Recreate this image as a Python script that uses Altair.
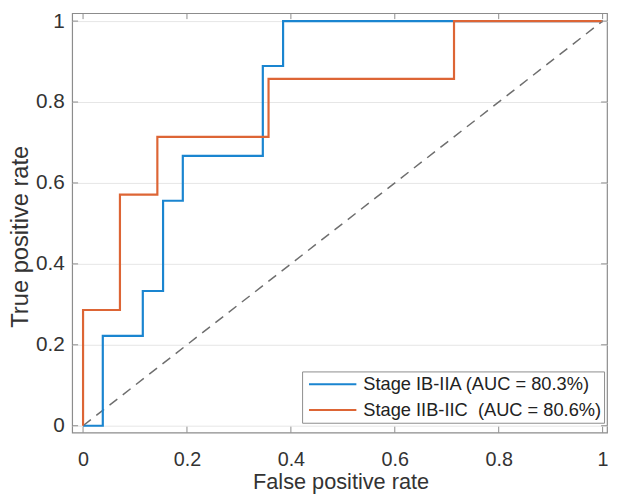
import altair as alt
import pandas as pd

# ROC step vertices
series_names = ["Stage IB-IIA (AUC = 80.3%)", "Stage IIB-IIC\u00a0 (AUC = 80.6%)"]
blue_fpr = [0.0, 0.038, 0.115, 0.154, 0.192, 0.346, 0.385, 1.0]
blue_tpr = [0.0, 0.222, 0.333, 0.556, 0.667, 0.889, 1.0, 1.0]
orange_fpr = [0.0, 0.0, 0.071, 0.143, 0.357, 0.714, 1.0]
orange_tpr = [0.0, 0.286, 0.571, 0.714, 0.857, 1.0, 1.0]
diag_x = [0.0, 1.0]
diag_y = [0.0, 1.0]
tick_values = [0, 0.2, 0.4, 0.6, 0.8, 1]
colors = ["#1a85d0", "#dd6535"]

rows = []
for i, (fx, ty) in enumerate(zip(blue_fpr, blue_tpr)):
    rows.append({"fpr": fx, "tpr": ty, "series": series_names[0], "ord": i})
for i, (fx, ty) in enumerate(zip(orange_fpr, orange_tpr)):
    rows.append({"fpr": fx, "tpr": ty, "series": series_names[1], "ord": i})
df = pd.DataFrame(rows)
diag = pd.DataFrame({"fpr": diag_x, "tpr": diag_y})
ticks = pd.DataFrame({"v": tick_values})

W, H = 542, 425
FONT = "Liberation Sans"
xscale = alt.Scale(domain=[-0.021, 1.0085], nice=False, zero=False)
yscale = alt.Scale(domain=[-0.017, 1.0195], nice=False, zero=False)
GRAY = "#8c8c8c"
LBL = "datum.value == 0 ? '0' : datum.value == 1 ? '1' : format(datum.value, '.1f')"

xaxis = alt.Axis(values=tick_values, grid=False, ticks=False, domain=False,
                 labelFontSize=20, labelColor="#333333", labelPadding=17,
                 labelExpr=LBL,
                 title="False positive rate", titleFontSize=22, titleFontWeight="normal",
                 titleColor="#333333", titleX=272, titleY=50, titleBaseline="middle")
yaxis = alt.Axis(values=tick_values, grid=True, gridColor="#e6e6e6", gridWidth=1,
                 ticks=False, domain=False, labelFontSize=21, labelColor="#333333",
                 labelPadding=8, labelExpr=LBL,
                 title="True positive rate", titleFontSize=24, titleFontWeight="normal",
                 titleColor="#333333", titleX=-52, titleY=226, titleBaseline="middle",
                 titleAngle=-90, titleAlign="center")

base_lines = alt.Chart(df).mark_line(strokeWidth=2.2, interpolate="step-after").encode(
    x=alt.X("fpr:Q", scale=xscale, axis=xaxis),
    y=alt.Y("tpr:Q", scale=yscale, axis=yaxis),
    color=alt.Color("series:N", scale=alt.Scale(domain=series_names, range=colors),
                    legend=alt.Legend(title=None, orient="none", legendX=233, legendY=363,
                                      fillColor="white", strokeColor=GRAY, padding=2,
                                      symbolType="stroke", symbolSize=2304,
                                      symbolStrokeWidth=2, symbolOffset=4,
                                      labelFontSize=18.5, labelLimit=0,
                                      labelColor="#222222", labelOffset=6,
                                      clipHeight=22, rowPadding=4)),
    order="ord:Q",
)

diag_line = alt.Chart(diag).mark_line(color="#6e6e6e", strokeWidth=1.5,
                                      strokeDash=[10, 7]).encode(
    x=alt.X("fpr:Q", scale=xscale),
    y=alt.Y("tpr:Q", scale=yscale),
)

tick_len = 6
xt_bottom = alt.Chart(ticks).mark_rule(color=GRAY, strokeWidth=1).encode(
    x=alt.X("v:Q", scale=xscale), y=alt.value(H), y2=alt.value(H - tick_len))
xt_top = alt.Chart(ticks).mark_rule(color=GRAY, strokeWidth=1).encode(
    x=alt.X("v:Q", scale=xscale), y=alt.value(0), y2=alt.value(tick_len))
yt_left = alt.Chart(ticks).mark_rule(color=GRAY, strokeWidth=1).encode(
    y=alt.Y("v:Q", scale=yscale), x=alt.value(0), x2=alt.value(tick_len))
yt_right = alt.Chart(ticks).mark_rule(color=GRAY, strokeWidth=1).encode(
    y=alt.Y("v:Q", scale=yscale), x=alt.value(W), x2=alt.value(W - tick_len))

chart = alt.layer(diag_line, base_lines, xt_bottom, xt_top, yt_left, yt_right).properties(
    width=W, height=H,
    autosize=alt.AutoSizeParams(type="none"),
    padding={"left": 65, "top": 2, "right": 2, "bottom": 64},
).configure(font=FONT).configure_view(stroke=GRAY, strokeWidth=1.2)

chart.save("out.html", embed_options={"renderer": "svg", "actions": False})
